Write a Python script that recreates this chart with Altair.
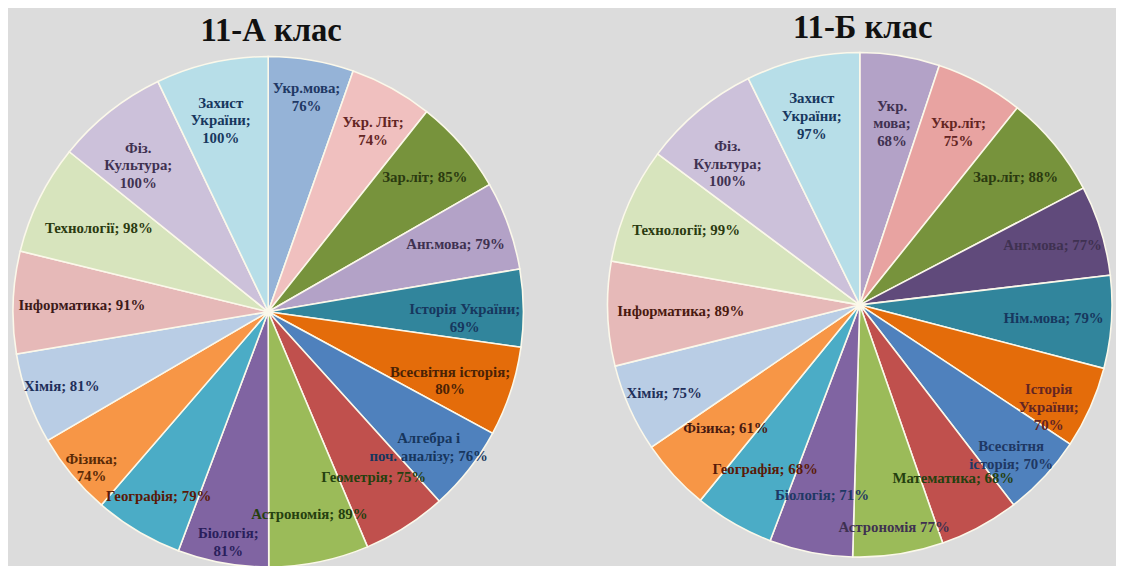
import altair as alt
import pandas as pd

# ---- data ----
titles = ["11-А клас", "11-Б  клас"]

subjects_a = ["Укр.мова", "Укр. Літ", "Зар.літ", "Анг.мова", "Історія України",
              "Всесвітня історія", "Алгебра і\nпоч. аналізу", "Геометрія", "Астрономія",
              "Біологія", "Географія", "Фізика", "Хімія", "Інформатика", "Технології",
              "Фіз.\nКультура", "Захист\nУкраїни"]
values_a = [76, 74, 85, 79, 69, 80, 76, 75, 89, 81, 79, 74, 81, 91, 98, 100, 100]
wrap_a = [True, True, False, False, True, True, False, False, False,
          True, False, True, False, False, False, True, True]

subjects_b = ["Укр.\nмова", "Укр.літ", "Зар.літ", "Анг.мова", "Нім.мова",
              "Історія\nУкраїни", "Всесвітня\nісторія", "Математика", "Астрономія ",
              "Біологія", "Географія", "Фізика", "Хімія; ", "Інформатика", "Технології",
              "Фіз.\nКультура", "Захист\nУкраїни"]
values_b = [68, 75, 88, 77, 79, 70, 70, 68, 77, 71, 68, 61, 75, 89, 99, 100, 97]
wrap_b = [True, True, False, False, False, True, False, False, False,
          False, False, False, False, False, False, True, True]

# ---- styles ----
colors_a = ["#95b3d7", "#f0c0bf", "#77933c", "#b3a2c7", "#31859c", "#e46c0a",
            "#4f81bd", "#c0504d", "#9bbb59", "#8064a2", "#4bacc6", "#f79646",
            "#b9cde5", "#e6b9b8", "#d7e4bd", "#ccc1da", "#b7dee8"]
colors_b = ["#b3a2c7", "#e8a3a1", "#77933c", "#604a7b", "#31859c", "#e46c0a",
            "#4f81bd", "#c0504d", "#9bbb59", "#8064a2", "#4bacc6", "#f79646",
            "#b9cde5", "#e6b9b8", "#d7e4bd", "#ccc1da", "#b7dee8"]
tcolors_a = ["#1f3864", "#632523", "#2b3a10", "#3f3151", "#17375e", "#4a2205",
             "#17365d", "#25400f", "#25400f", "#2a1f5c", "#5a1a08", "#5a2a06",
             "#1f2f5a", "#3d1a1a", "#2b3a10", "#3f3151", "#17375e"]
tcolors_b = ["#3f3151", "#632523", "#2b3a10", "#3f3151", "#17375e", "#632523",
             "#1f3864", "#25400f", "#3f3151", "#1f3864", "#5a1a08", "#4a1a10",
             "#1f2f5a", "#4a1a10", "#2b3a10", "#3f3151", "#17375e"]
# label distance from the centre, as a fraction of the pie radius
lrad_a = [0.89, 0.85, 0.81, 0.78, 0.77, 0.75, 0.80, 0.77, 0.81,
          0.88, 0.84, 0.90, 0.86, 0.73, 0.74, 0.82, 0.84]
lrad_b = [0.80, 0.82, 0.80, 0.80, 0.77, 0.82, 0.82, 0.78, 0.89,
          0.77, 0.75, 0.72, 0.85, 0.71, 0.75, 0.82, 0.84]


def make_df(subjects, values, wrap, colors, tcolors, lrad, r):
    labels = []
    for s, v, w in zip(subjects, values, wrap):
        sep = "" if s.endswith(" ") else ";"
        labels.append(f"{s}{sep}\n{v}%" if w else f"{s}{sep} {v}%")
    return pd.DataFrame({
        "idx": list(range(len(subjects))),
        "subject": subjects,
        "value": values,
        "label": labels,
        "color": colors,
        "tcolor": tcolors,
        "lr": [f * r for f in lrad],
    })


R_A, R_B = 258, 255
df_a = make_df(subjects_a, values_a, wrap_a, colors_a, tcolors_a, lrad_a, R_A)
df_b = make_df(subjects_b, values_b, wrap_b, colors_b, tcolors_b, lrad_b, R_B)

FONT = "Liberation Serif"


def pie(df, cx, cy, r):
    arc = alt.Chart(df).mark_arc(outerRadius=r, stroke="#fbf8ea", strokeWidth=1.6).encode(
        theta=alt.Theta("value:Q", stack=True),
        order=alt.Order("idx:Q"),
        color=alt.Color("color:N", scale=None),
        x=alt.value(cx),
        y=alt.value(cy),
    )
    txt = alt.Chart(df).transform_window(
        cum="sum(value)", sort=[alt.SortField("idx")]
    ).transform_joinaggregate(
        total="sum(value)"
    ).transform_calculate(
        mid="(datum.cum - datum.value / 2) / datum.total * 2 * PI"
    ).mark_text(
        font=FONT, fontWeight="bold", fontSize=15,
        lineBreak="\n", lineHeight=18, align="center", baseline="middle"
    ).encode(
        theta=alt.Theta("mid:Q", scale=None, stack=None),
        radius=alt.Radius("lr:Q", scale=None, stack=None),
        text="label:N",
        color=alt.Color("tcolor:N", scale=None),
        x=alt.value(cx),
        y=alt.value(cy),
    )
    return alt.layer(arc, txt)


def title(t, cx, cy):
    return alt.Chart(pd.DataFrame({"t": [t]})).mark_text(
        font=FONT, fontWeight="bold", fontSize=33, color="#111111",
        align="center", baseline="alphabetic"
    ).encode(text="t:N", x=alt.value(cx), y=alt.value(cy))


chart = alt.layer(
    pie(df_a, 263, 304, R_A),
    pie(df_b, 861, 297, R_B),
    title(titles[0], 266, 30),
    title(titles[1], 864, 27),
).resolve_scale(theta="independent").properties(
    width=1108, height=548, background="#dcdcdc", padding=0
).configure_view(stroke=None)

chart.save("out.html", embed_options={"renderer": "svg", "actions": False})
